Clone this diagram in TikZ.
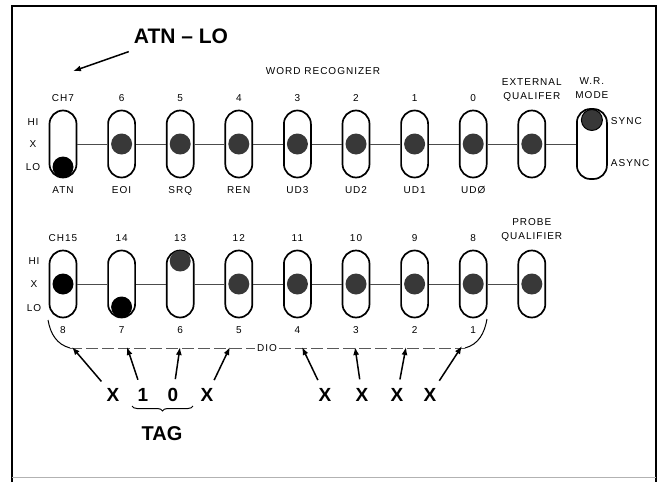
\documentclass[tikz,border=0pt]{standalone}
\usepackage{fontspec}
\setmainfont{Liberation Sans}
\newfontfamily\panelfont[LetterSpace=10]{Liberation Sans}
\usetikzlibrary{arrows.meta,positioning,decorations.pathreplacing}

\begin{document}
\begin{tikzpicture}[
    x=1pt, y=-1pt,
    node distance=29.9pt,
    every node/.style={font=\panelfont\fontsize{10}{11}\selectfont, inner sep=0pt},
    slot/.style={draw, line width=1.7pt, rounded corners=13.5pt, minimum width=27pt, minimum height=67pt},
    knob/.style={circle, fill=black!78, minimum size=21pt},
    set knob/.style={knob, fill=black},
    twoline/.style={align=center, font=\panelfont\fontsize{10}{14}\selectfont},
    big/.style={font=\normalfont\bfseries\fontsize{21}{24}\selectfont},
    bit/.style={font=\normalfont\bfseries\fontsize{19}{20}\selectfont},
    link/.style={draw=black!70, line width=0.8pt},
    pointer/.style={-{Latex[length=8pt,width=6pt]}, line width=1.5pt},
    tagarrow/.style={pointer, shorten <=9pt},
    bus/.style={draw=black!65, line width=0.8pt, dash pattern=on 12pt off 4pt}
]
\useasboundingbox[fill=white] (0,0) rectangle (664,482);
\draw[line width=2.5pt] (12,482) -- (12,6) -- (656,6) -- (656,482);
\draw[black!30, line width=1pt] (12,477) -- (656,477);

% word recognizer row
\node[slot] (t7) at (63,144) {};
\node[slot, right=of t7] (t6) {};
\node[slot, right=of t6] (t5) {};
\node[slot, right=of t5] (t4) {};
\node[slot, right=of t4] (t3) {};
\node[slot, right=of t3] (t2) {};
\node[slot, right=of t2] (t1) {};
\node[slot, right=of t1] (t0) {};
\node[slot, right=of t0] (tq) {};
\node[slot, minimum width=30pt, minimum height=70pt, right=of tq] (tm) {};
\draw[link] (t7) -- (t6) (t6) -- (t5) (t5) -- (t4) (t4) -- (t3) (t3) -- (t2)
            (t2) -- (t1) (t1) -- (t0) (t0) -- (tq) (tq) -- (tm);
\node[set knob] (k7) at ([yshift=-23pt]t7) {};
\node[knob] (k6) at (t6) {};
\node[knob] (k5) at (t5) {};
\node[knob] (k4) at (t4) {};
\node[knob] (k3) at (t3) {};
\node[knob] (k2) at (t2) {};
\node[knob] (k1) at (t1) {};
\node[knob] (k0) at (t0) {};
\node[knob] (kq) at (tq) {};
\node[knob, draw, line width=1pt] (km) at ([yshift=24pt]tm) {};
\node[above=8pt of t7] (n7) {CH7};
\node[above=8pt of t6] (n6) {6};
\node[above=8pt of t5] (n5) {5};
\node[above=8pt of t4] (n4) {4};
\node[above=8pt of t3] (n3) {3};
\node[above=8pt of t2] (n2) {2};
\node[above=8pt of t1] (n1) {1};
\node[above=8pt of t0] (n0) {0};
\node[twoline, above=8pt of tq] (eq) {EXTERNAL\\QUALIFER};
\node[twoline, above=9pt of tm] (wm) {W.R.\\MODE};
\node[below=8pt of t7] (atn) {ATN};
\node[below=8pt of t6] (eoi) {EOI};
\node[below=8pt of t5] (srq) {SRQ};
\node[below=8pt of t4] (ren) {REN};
\node[below=8pt of t3] (ud3) {UD3};
\node[below=8pt of t2] (ud2) {UD2};
\node[below=8pt of t1] (ud1) {UD1};
\node[below=8pt of t0] (ud0) {UDØ};
\node[anchor=west] (sync) at ([xshift=3pt,yshift=23pt]tm.east) {SYNC};
\node[anchor=west] (async) at ([xshift=3pt,yshift=-19pt]tm.east) {ASYNC};
\node (hi1) at (33,122) {HI};
\node (x1) at (33,144) {X};
\node (lo1) at (33,167) {LO};
\node (wrtitle) at (323,71) {WORD RECOGNIZER};
\node[big] (atnlo) at (181,36) {ATN -- LO};
\draw[pointer] ([xshift=-5pt,yshift=-8pt]atnlo.south west) -- ([xshift=10pt,yshift=23pt]n7.north);

% probe row
\node[slot] (b15) at (63,284) {};
\node[slot, right=of b15] (b14) {};
\node[slot, right=of b14] (b13) {};
\node[slot, right=of b13] (b12) {};
\node[slot, right=of b12] (b11) {};
\node[slot, right=of b11] (b10) {};
\node[slot, right=of b10] (b9) {};
\node[slot, right=of b9] (b8) {};
\node[slot, right=of b8] (bq) {};
\draw[link] (b15) -- (b14) (b14) -- (b13) (b13) -- (b12) (b12) -- (b11) (b11) -- (b10)
            (b10) -- (b9) (b9) -- (b8) (b8) -- (bq);
\node[set knob] (k15) at (b15) {};
\node[set knob] (k14) at ([yshift=-23pt]b14) {};
\node[knob] (k13) at ([yshift=23pt]b13) {};
\node[knob] (k12) at (b12) {};
\node[knob] (k11) at (b11) {};
\node[knob] (k10) at (b10) {};
\node[knob] (k9) at (b9) {};
\node[knob] (k8) at (b8) {};
\node[knob] (kp) at (bq) {};
\node[above=8pt of b15] (n15) {CH15};
\node[above=8pt of b14] (n14) {14};
\node[above=8pt of b13] (n13) {13};
\node[above=8pt of b12] (n12) {12};
\node[above=8pt of b11] (n11) {11};
\node[above=8pt of b10] (n10) {10};
\node[above=8pt of b9] (n9) {9};
\node[above=8pt of b8] (n8) {8};
\node[twoline, above=8pt of bq] (pq) {PROBE\\QUALIFIER};
\node[below=8pt of b15] (dio8) {8};
\node[below=8pt of b14] (dio7) {7};
\node[below=8pt of b13] (dio6) {6};
\node[below=8pt of b12] (dio5) {5};
\node[below=8pt of b11] (dio4) {4};
\node[below=8pt of b10] (dio3) {3};
\node[below=8pt of b9] (dio2) {2};
\node[below=8pt of b8] (dio1) {1};
\node (hi2) at (34,261) {HI};
\node (x2) at (34,284) {X};
\node (lo2) at (34,308) {LO};

% DIO bus and tag
\coordinate (busl) at (70,348);
\coordinate (busr) at (465,348);
\node[fill=white, inner xsep=2pt] (dio) at (267,348) {DIO};
\draw[bus] (busl) -- (dio.west) (dio.east) -- (busr);
\draw[line width=1pt] (48,320) to[out=-80,in=165] (busl);
\draw[line width=1pt] (487,319) to[out=-100,in=15] (busr);
\coordinate (d8) at (72,347);
\coordinate (d7) at (127,347);
\coordinate (d6) at (180,347);
\coordinate (d5) at (230,347);
\coordinate (d4) at (302,347);
\coordinate (d3) at (355,347);
\coordinate (d2) at (406,347);
\coordinate (d1) at (462,346);
\node[bit] (bx8) at (113,395) {X};
\node[bit] (bx7) at (143,395) {1};
\node[bit] (bx6) at (173,395) {0};
\node[bit] (bx5) at (207,395) {X};
\node[bit] (bx4) at (325,395) {X};
\node[bit] (bx3) at (362,395) {X};
\node[bit] (bx2) at (397,395) {X};
\node[bit] (bx1) at (430,395) {X};
\draw[tagarrow] (bx8) -- (d8);
\draw[tagarrow] (bx7) -- (d7);
\draw[tagarrow] (bx6) -- (d6);
\draw[tagarrow] (bx5) -- (d5);
\draw[tagarrow] (bx4) -- (d4);
\draw[tagarrow] (bx3) -- (d3);
\draw[tagarrow] (bx2) -- (d2);
\draw[tagarrow] (bx1) -- (d1);
\coordinate (tagl) at (132,406);
\coordinate (tagr) at (193,406);
\draw[decorate, decoration={brace, mirror, amplitude=5pt}, line width=1pt] (tagl) -- (tagr);
\node[big, font=\normalfont\bfseries\fontsize{20}{22}\selectfont] (tag) at (162,434) {TAG};
\end{tikzpicture}
\end{document}
